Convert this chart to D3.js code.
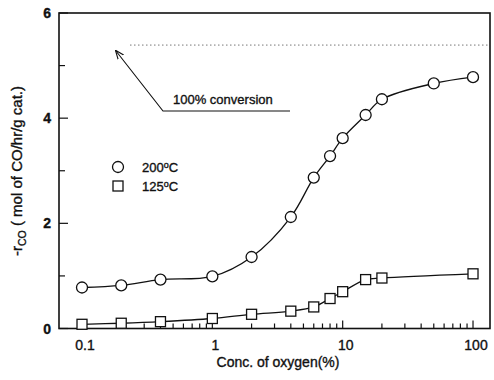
<!DOCTYPE html>
<html>
<head>
<meta charset="UTF-8">
<script src="https://d3js.org/d3.v7.min.js"></script>
<style>
  body { margin: 0; background: #fff; }
  svg text { font-family: "Liberation Sans", Arial, sans-serif; fill: #111; stroke: #111; stroke-width: 0.35; }
</style>
</head>
<body>
<svg id="chart" width="494" height="380"></svg>
<script>
// data
const oxygen200 = [0.1, 0.2, 0.4, 1, 2, 4, 6, 8, 10, 15, 20, 50, 100];
const rate200   = [0.78, 0.82, 0.93, 0.99, 1.36, 2.12, 2.87, 3.28, 3.62, 4.06, 4.36, 4.66, 4.78];
const oxygen125 = [0.1, 0.2, 0.4, 1, 2, 4, 6, 8, 10, 15, 20, 100];
const rate125   = [0.08, 0.10, 0.13, 0.19, 0.27, 0.33, 0.41, 0.57, 0.70, 0.93, 0.96, 1.04];
const fullConversion = 5.39;
const xTickLabels = [0.1, 1, 10, 100];
const yTickLabels = [0, 2, 4, 6];

const svg = d3.select("#chart");
const plotL = 59, plotR = 490, plotT = 13, plotB = 328.5;

const x = d3.scaleLog().domain([0.0666, 135]).range([plotL, plotR]);
const y = d3.scaleLinear().domain([0, 6]).range([plotB, plotT]);

// frame
svg.append("rect")
    .attr("x", plotL).attr("y", plotT)
    .attr("width", plotR - plotL).attr("height", plotB - plotT)
    .attr("fill", "none").attr("stroke", "#111").attr("stroke-width", 1.6);

// x ticks (inward)
const xMinor = [];
for (let d = 0.1; d < 150; d *= 10) {
    for (let k = 1; k <= 9; k++) {
        const v = d * k;
        if (v <= 130) xMinor.push(v);
    }
}
svg.append("g").selectAll("line")
    .data(xMinor)
    .join("line")
    .attr("x1", d => x(d)).attr("x2", d => x(d))
    .attr("y1", plotB)
    .attr("y2", d => xTickLabels.some(t => Math.abs(t - d) < 1e-9) ? plotB - 8 : plotB - 5)
    .attr("stroke", "#111").attr("stroke-width", 1.2);

svg.append("g").selectAll("text")
    .data(xTickLabels)
    .join("text")
    .attr("x", d => x(d) + 3)
    .attr("y", plotB + 21)
    .attr("text-anchor", "middle")
    .attr("font-size", 14)
    .text(d => d);

// y ticks (inward)
svg.append("g").selectAll("line")
    .data(d3.range(0, 7))
    .join("line")
    .attr("x1", plotL)
    .attr("x2", d => d % 2 === 0 ? plotL + 9 : plotL + 6)
    .attr("y1", d => y(d)).attr("y2", d => y(d))
    .attr("stroke", "#111").attr("stroke-width", 1.2);

svg.append("g").selectAll("text")
    .data(yTickLabels)
    .join("text")
    .attr("x", plotL - 8)
    .attr("y", d => y(d) + 5)
    .attr("text-anchor", "end")
    .attr("font-size", 14)
    .attr("font-weight", "bold")
    .text(d => d);

// axis titles
svg.append("text")
    .attr("x", 278).attr("y", 367)
    .attr("text-anchor", "middle")
    .attr("font-size", 14)
    .text("Conc. of oxygen(%)");

const yl = svg.append("text")
    .attr("transform", "translate(22,171) rotate(-90)")
    .attr("text-anchor", "middle")
    .attr("font-size", 15);
yl.append("tspan").text("-r");
yl.append("tspan").attr("font-size", 10.5).attr("dy", 4).text("CO");
yl.append("tspan").attr("dy", -4).text(" ( mol of CO/hr/g cat.)");

// 100% conversion line
svg.append("line")
    .attr("x1", 130).attr("x2", plotR - 2)
    .attr("y1", y(fullConversion)).attr("y2", y(fullConversion))
    .attr("stroke", "#777").attr("stroke-width", 1)
    .attr("stroke-dasharray", "1.5,2.5");

svg.append("defs").append("marker")
    .attr("id", "arrow")
    .attr("viewBox", "0 -5 10 10")
    .attr("refX", 9).attr("refY", 0)
    .attr("orient", "auto")
    .attr("markerWidth", 8).attr("markerHeight", 8)
    .append("path")
    .attr("d", "M0,-4 L10,0 L0,4")
    .attr("fill", "none").attr("stroke", "#111").attr("stroke-width", 1.3);

svg.append("path")
    .attr("d", "M290,111 L163,111 L116,51")
    .attr("fill", "none").attr("stroke", "#111").attr("stroke-width", 1.1)
    .attr("marker-end", "url(#arrow)");

svg.append("text")
    .attr("x", 173).attr("y", 104)
    .attr("font-size", 13)
    .text("100% conversion");

// curves
const line = d3.line()
    .x(d => x(d[0])).y(d => y(d[1]))
    .curve(d3.curveCatmullRom.alpha(0.5));

const pts200 = oxygen200.map((o, i) => [o, rate200[i]]);
const pts125 = oxygen125.map((o, i) => [o, rate125[i]]);

svg.append("path").attr("d", line(pts200))
    .attr("fill", "none").attr("stroke", "#111").attr("stroke-width", 1.3);
svg.append("path").attr("d", line(pts125))
    .attr("fill", "none").attr("stroke", "#111").attr("stroke-width", 1.3);

svg.append("g").selectAll("circle")
    .data(pts200)
    .join("circle")
    .attr("cx", d => x(d[0])).attr("cy", d => y(d[1]))
    .attr("r", 5.5)
    .attr("fill", "#fff").attr("stroke", "#111").attr("stroke-width", 1.3);

svg.append("g").selectAll("rect")
    .data(pts125)
    .join("rect")
    .attr("x", d => x(d[0]) - 5).attr("y", d => y(d[1]) - 5)
    .attr("width", 10).attr("height", 10)
    .attr("fill", "#fff").attr("stroke", "#111").attr("stroke-width", 1.3);

// legend
svg.append("circle")
    .attr("cx", 118).attr("cy", 167).attr("r", 5.5)
    .attr("fill", "#fff").attr("stroke", "#111").attr("stroke-width", 1.3);
svg.append("rect")
    .attr("x", 113).attr("y", 181).attr("width", 10).attr("height", 10)
    .attr("fill", "#fff").attr("stroke", "#111").attr("stroke-width", 1.3);

const lg1 = svg.append("text").attr("x", 142).attr("y", 172).attr("font-size", 13);
lg1.append("tspan").text("200");
lg1.append("tspan").attr("font-size", 9).attr("dy", -4).text("o");
lg1.append("tspan").attr("dy", 4).text("C");

const lg2 = svg.append("text").attr("x", 142).attr("y", 191).attr("font-size", 13);
lg2.append("tspan").text("125");
lg2.append("tspan").attr("font-size", 9).attr("dy", -4).text("o");
lg2.append("tspan").attr("dy", 4).text("C");
</script>
</body>
</html>
